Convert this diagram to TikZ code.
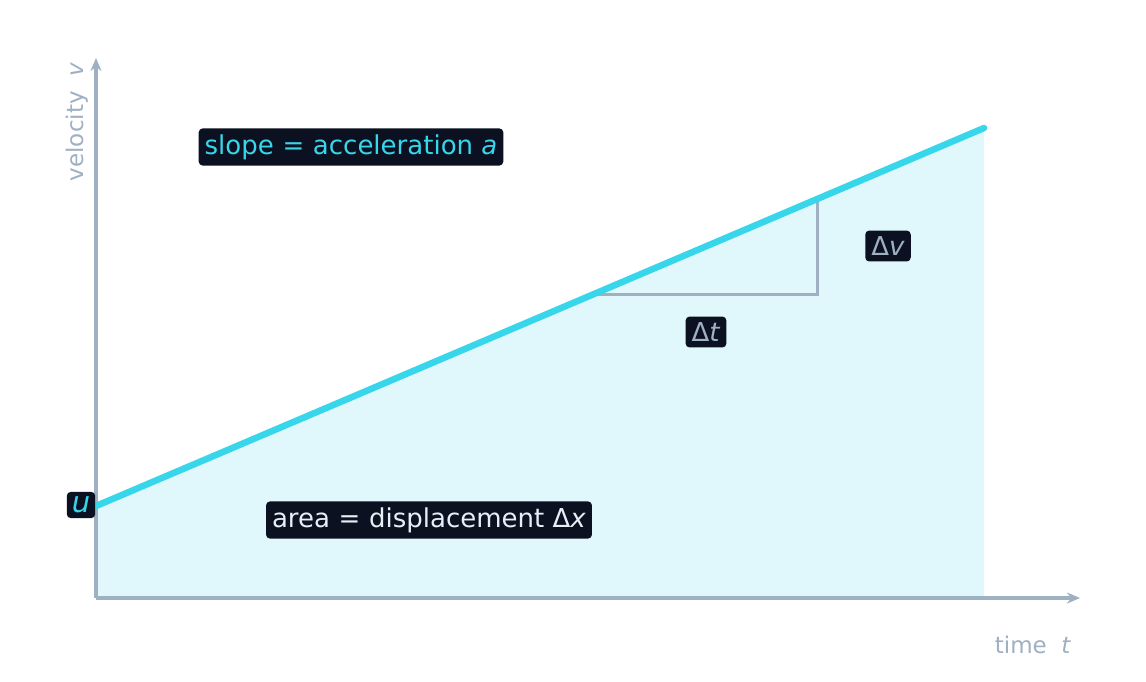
\documentclass[tikz,border=0pt]{standalone}
\usepackage{fontspec}
\setmainfont{DejaVu Sans}
\usetikzlibrary{arrows.meta}
\definecolor{ax}{HTML}{9FB0C3}
\definecolor{cy}{HTML}{38D6EA}
\definecolor{fillc}{HTML}{E0F8FC}
\definecolor{bx}{HTML}{0B1120}
\definecolor{wt}{HTML}{E8EEF5}
\begin{document}
\begin{tikzpicture}[x=1pt,y=-1pt,
  lbl/.style={fill=bx,rounded corners=4pt,inner sep=6pt,font=\fontsize{26}{30}\selectfont},
  axl/.style={text=ax,font=\fontsize{23}{26}\selectfont}]
\useasboundingbox[fill=white] (0,0) rectangle (1146,681);
\coordinate (O) at (96,598);
\coordinate (U) at (96,506);
\coordinate (E) at (984,128);
\coordinate (EB) at (984,598);
\fill[fillc] (O) -- (U) -- (E) -- (EB) -- cycle;
\coordinate (Y) at (96,58);
\coordinate (X) at (1080,598);
\draw[ax,line width=3.5pt,-{Stealth[length=13pt,width=11pt]}] (O) -- (Y);
\draw[ax,line width=3.5pt,-{Stealth[length=13pt,width=11pt]}] (O) -- (X);
\coordinate (A) at (594,294);
\coordinate (B) at (817,294);
\coordinate (C) at (817,198);
\draw[ax,line width=3pt] (A) -- (B) -- (C);
\draw[cy,line width=6.5pt,line cap=round] (U) -- (E);
\node[lbl,text=cy] (slope) at (351,147) {slope\,\,=\,\,acceleration \textit{a}};
\node[lbl,text=wt] (area) at (429,520) {area\,\,=\,\,displacement Δ\textit{x}};
\node[lbl,text=ax] (dv) at (888,246) {Δ\textit{v}};
\node[lbl,text=ax] (dt) at (706,332) {Δ\textit{t}};
\node[lbl,text=cy,inner sep=5pt,font=\fontsize{29}{32}\selectfont] (u) at (81,505) {\textit{u}};
\node[axl,rotate=90] (vl) at (77,122) {velocity \ \textit{v}};
\node[axl] (tl) at (1033,645) {time \ \textit{t}};
\end{tikzpicture}
\end{document}
